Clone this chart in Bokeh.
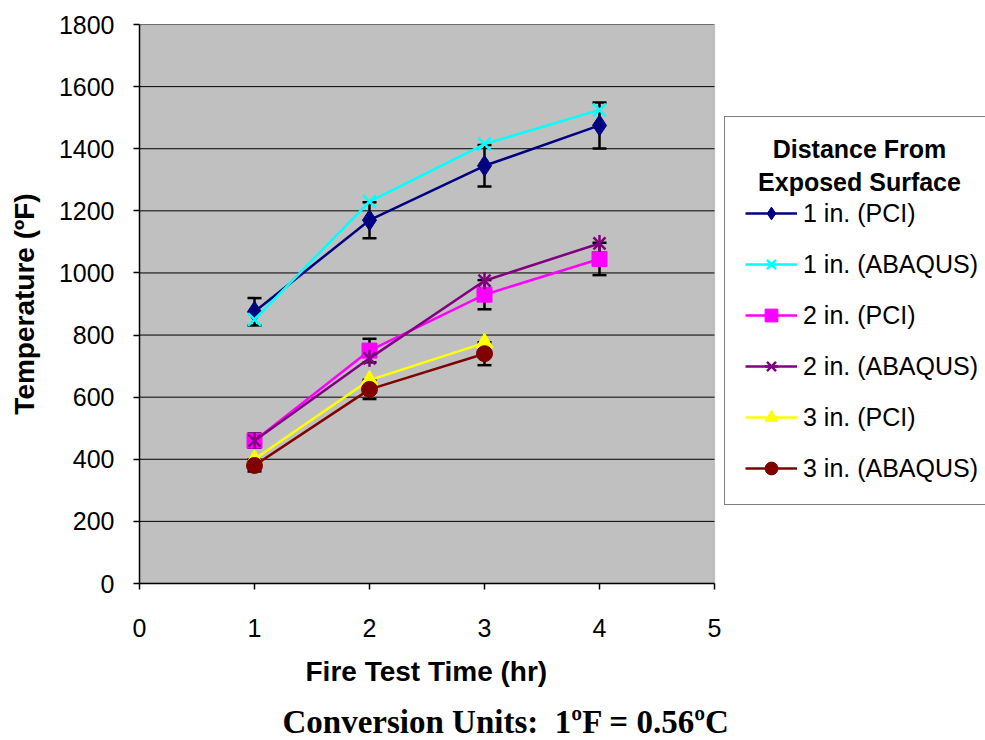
from bokeh.plotting import figure
from bokeh.models import (ColumnDataSource, Legend, LegendItem, Label, Whisker,
                          TeeHead, FixedTicker, Range1d, BoxAnnotation, Title)
from bokeh.embed import file_html
from bokeh.resources import INLINE
import math

# ---- data ----
time_hr = [1, 2, 3, 4]
time_hr3 = [1, 2, 3]
pci_1in = [875, 1170, 1345, 1475]
abaqus_1in = [850, 1230, 1415, 1525]
pci_2in = [460, 750, 930, 1045]
abaqus_2in = [460, 725, 975, 1095]
pci_3in = [400, 655, 775]
abaqus_3in = [380, 625, 740]
err_1in = [44, 58, 67, 74]
err_2in = [23, 38, 47, 52]
err_3in = [19, 31, 37]
y_ticks = [0, 200, 400, 600, 800, 1000, 1200, 1400, 1600, 1800]
x_ticks = [0, 1, 2, 3, 4, 5]
x_min, x_max = 0, 5
y_min, y_max = 0, 1800

SANS = "Liberation Sans"
SERIF = "Liberation Serif"

W, H = 985, 740
LEFT, TOP, BOTTOM = 139, 24, 157
PX_PER_X = 115.0  # width of one hour on the x axis
frame_w = W - LEFT
p = figure(width=W, height=H, output_backend="svg", toolbar_location=None,
           x_range=Range1d(x_min, frame_w / PX_PER_X),
           y_range=Range1d(y_min, y_max),
           min_border_left=LEFT, min_border_right=0, min_border_top=TOP,
           min_border_bottom=BOTTOM)
p.background_fill_color = "white"
p.border_fill_color = "white"
p.outline_line_color = None
p.grid.visible = False

# plot area (grey) limited to the 0..5 hour range
p.add_layout(BoxAnnotation(left=x_min, right=x_max, bottom=y_min, top=y_max,
                           fill_color="#C0C0C0", fill_alpha=1,
                           line_color="#808080", line_width=1.5, level="image"))
# horizontal grid lines
p.segment(x0=[x_min] * len(y_ticks), x1=[x_max] * len(y_ticks),
          y0=y_ticks, y1=y_ticks, line_color="black", line_width=1,
          level="underlay")

for ax in (p.xaxis[0], p.yaxis[0]):
    ax.axis_line_color = "black"
    ax.axis_line_width = 1.5
    ax.major_tick_line_color = "black"
    ax.major_tick_line_width = 1.5
    ax.major_tick_out = 6
    ax.major_tick_in = 0
    ax.minor_tick_line_color = None
    ax.major_label_text_font = SANS
    ax.major_label_text_font_size = "25px"
    ax.major_label_text_color = "black"
    ax.axis_label_text_font = SANS
    ax.axis_label_text_font_size = "28px"
    ax.axis_label_text_font_style = "bold"
    ax.axis_label_text_color = "black"

p.xaxis.ticker = FixedTicker(ticks=x_ticks)
p.xaxis.bounds = (x_min, x_max)
p.yaxis.ticker = FixedTicker(ticks=y_ticks)
p.yaxis.axis_label = "Temperature (ºF)"
p.xaxis.major_label_standoff = 29
p.yaxis.major_label_standoff = 19
p.yaxis.axis_label_standoff = 16

# x axis title, centred under the 0..5 range
p.add_layout(Title(text="Fire Test Time (hr)", align="left", offset=166,
                   text_font=SANS, text_font_size="28px",
                   text_font_style="bold", text_color="black", standoff=28),
             "below")
# conversion note
p.add_layout(Title(text="Conversion Units:\u00a0\u00a01ºF = 0.56ºC", align="left",
                   offset=143, text_font=SERIF, text_font_size="33px",
                   text_font_style="bold", text_color="black", standoff=2),
             "below")

# ---- error bars ----
def add_err(xs, ys, errs):
    src = ColumnDataSource(dict(x=xs,
                                upper=[y + e for y, e in zip(ys, errs)],
                                lower=[y - e for y, e in zip(ys, errs)]))
    w = Whisker(base="x", upper="upper", lower="lower", source=src,
                line_color="black", line_width=2.5,
                upper_head=TeeHead(size=14, line_width=2.5, line_color="black"),
                lower_head=TeeHead(size=14, line_width=2.5, line_color="black"),
                level="underlay")
    p.add_layout(w)

add_err(time_hr, pci_1in, err_1in)
add_err(time_hr, pci_2in, err_2in)
add_err(time_hr3, abaqus_3in, err_3in)

# ---- series ----
items = []
def series(xs, ys, color, marker, label, size, fill=True, lw=2.5):
    rs = [p.line(xs, ys, line_color=color, line_width=lw)]
    if marker == "star6":
        rs.append(p.scatter(xs, ys, marker="x", size=size, line_color=color,
                            line_width=2.5))
        rs.append(p.scatter(xs, ys, marker="dash", size=size, angle=math.pi / 2,
                            line_color=color, line_width=2.5))
    elif fill:
        rs.append(p.scatter(xs, ys, marker=marker, size=size, line_color=color,
                            fill_color=color))
    else:
        rs.append(p.scatter(xs, ys, marker=marker, size=size, line_color=color,
                            fill_color=None, line_width=2.5))
    items.append(LegendItem(label=label, renderers=rs))

series(time_hr, pci_1in, "#000080", "diamond", "1 in. (PCI)", 21)
series(time_hr, abaqus_1in, "#00FFFF", "x", "1 in. (ABAQUS)", 18, fill=False)
series(time_hr, pci_2in, "#FF00FF", "square", "2 in. (PCI)", 15)
series(time_hr, abaqus_2in, "#800080", "star6", "2 in. (ABAQUS)", 17)
series(time_hr3, pci_3in, "#FFFF00", "triangle", "3 in. (PCI)", 17)
series(time_hr3, abaqus_3in, "#800000", "circle", "3 in. (ABAQUS)", 16)

# legend title lines (drawn first; legend background is transparent)
for txt, yy in (("Distance From", 435), ("Exposed Surface", 402)):
    p.add_layout(Label(x=720, y=yy, x_units="screen", y_units="screen",
                       text=txt, text_font=SANS, text_font_size="25px",
                       text_font_style="bold", text_align="center",
                       text_baseline="middle", text_color="black"))

legend = Legend(items=items, location=(585, 78))
legend.title = " "
legend.title_text_font_size = "25px"
legend.title_standoff = 31
legend.label_text_font = SANS
legend.label_text_font_size = "25px"
legend.label_text_color = "black"
legend.glyph_width = 52
legend.glyph_height = 32
legend.label_height = 25
legend.label_standoff = 6
legend.spacing = 19
legend.padding = 20
legend.margin = 0
legend.border_line_color = "black"
legend.border_line_width = 1.5
legend.background_fill_color = "white"
legend.background_fill_alpha = 0
p.add_layout(legend)

open("out.html", "w").write(file_html(p, INLINE))
